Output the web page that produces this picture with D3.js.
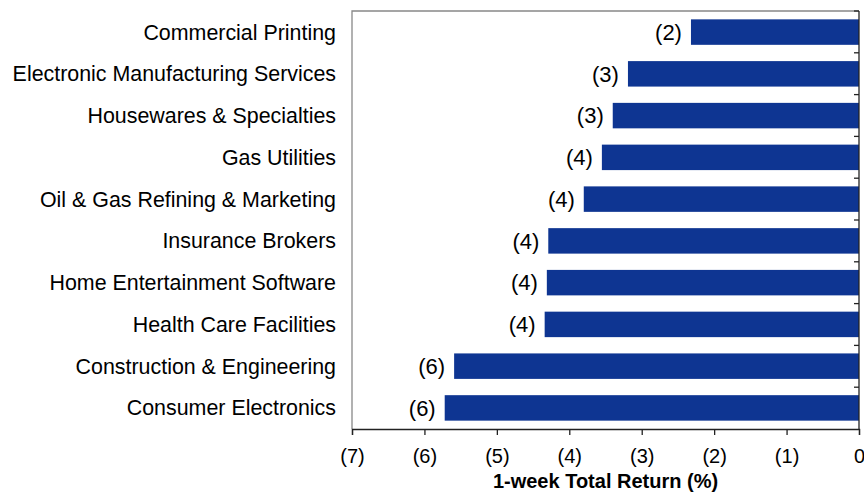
<!DOCTYPE html>
<html>
<head>
<meta charset="utf-8">
<script src="https://cdn.jsdelivr.net/npm/d3@7"></script>
<style>
  body { margin: 0; background: #fff; }
  svg { font-family: "Liberation Sans", Arial, sans-serif; }
</style>
</head>
<body>
<div id="wrapper"></div>
<script>
// categories top to bottom
const categories = [
  "Commercial Printing",
  "Electronic Manufacturing Services",
  "Housewares & Specialties",
  "Gas Utilities",
  "Oil & Gas Refining & Marketing",
  "Insurance Brokers",
  "Home Entertainment Software",
  "Health Care Facilities",
  "Construction & Engineering",
  "Consumer Electronics"
];
// 1-week total return (%)
const returns = [-2.32, -3.19, -3.40, -3.55, -3.80, -4.29, -4.31, -4.34, -5.59, -5.72];
const xTicks = [-7, -6, -5, -4, -3, -2, -1, 0];
const xTitle = "1-week Total Return (%)";

const width = 864, height = 492;
const margin = {top: 11, right: 5, bottom: 63, left: 352};

const svg = d3.select('#wrapper')
  .append('svg')
  .attr('width', width)
  .attr('height', height);

const x = d3.scaleLinear()
  .domain([-7, 0])
  .range([margin.left, width - margin.right]);

const y = d3.scaleBand()
  .domain(categories)
  .range([margin.top, height - margin.bottom])
  .paddingInner(0.39)
  .paddingOuter(0.2);

const fmt = v => v === 0 ? "0" : `(${Math.abs(Math.round(v))})`;

// frame (left and top)
svg.append('path')
  .attr('d', `M${x(0)},${margin.top}H${margin.left}V${height - margin.bottom}`)
  .attr('fill', 'none')
  .attr('stroke', '#888')
  .attr('stroke-width', 1.3);

// bars
svg.append('g')
  .selectAll('rect')
  .data(returns)
  .join('rect')
  .attr('x', d => x(d))
  .attr('y', (d, i) => y(categories[i]))
  .attr('width', d => x(0) - x(d))
  .attr('height', y.bandwidth())
  .attr('fill', '#0e3592');

// value labels
svg.append('g')
  .selectAll('text')
  .data(returns)
  .join('text')
  .attr('x', d => x(d) - 9)
  .attr('y', (d, i) => y(categories[i]) + y.bandwidth() / 2)
  .attr('dy', '0.35em')
  .attr('text-anchor', 'end')
  .attr('font-size', 22)
  .attr('fill', '#000')
  .text(d => fmt(d));

// category labels
svg.append('g')
  .selectAll('text')
  .data(categories)
  .join('text')
  .attr('x', margin.left - 16)
  .attr('y', d => y(d) + y.bandwidth() / 2)
  .attr('dy', '0.35em')
  .attr('text-anchor', 'end')
  .attr('font-size', 21.4)
  .attr('fill', '#000')
  .text(d => d);

// right axis at zero, ticks between categories
const bounds = d3.range(0, categories.length).map(i => margin.top + (height - margin.top - margin.bottom) * i / categories.length);
const ry = svg.append('g');
ry.append('line')
  .attr('x1', x(0)).attr('x2', x(0))
  .attr('y1', margin.top).attr('y2', height - margin.bottom)
  .attr('stroke', '#222').attr('stroke-width', 1.3);
ry.selectAll('.rt')
  .data(bounds)
  .join('line')
  .attr('class', 'rt')
  .attr('x1', x(0) - 5).attr('x2', x(0))
  .attr('y1', d => d).attr('y2', d => d)
  .attr('stroke', '#222').attr('stroke-width', 1.3);

// bottom axis
const xAxis = d3.axisBottom(x)
  .tickValues(xTicks)
  .tickSize(6)
  .tickPadding(14)
  .tickFormat(fmt);

const gx = svg.append('g')
  .attr('transform', `translate(0,${height - margin.bottom})`)
  .call(xAxis);
gx.select('.domain').attr('stroke', '#222').attr('stroke-width', 1.3);
gx.selectAll('.tick line').attr('stroke', '#222').attr('stroke-width', 1.3);
gx.selectAll('.tick text')
  .attr('font-size', 20)
  .attr('font-family', '"Liberation Sans", Arial, sans-serif')
  .attr('fill', '#000');

svg.append('text')
  .attr('x', (x(-7) + x(0)) / 2)
  .attr('y', 488)
  .attr('text-anchor', 'middle')
  .attr('font-size', 20)
  .attr('font-weight', 'bold')
  .attr('fill', '#000')
  .text(xTitle);
</script>
</body>
</html>
